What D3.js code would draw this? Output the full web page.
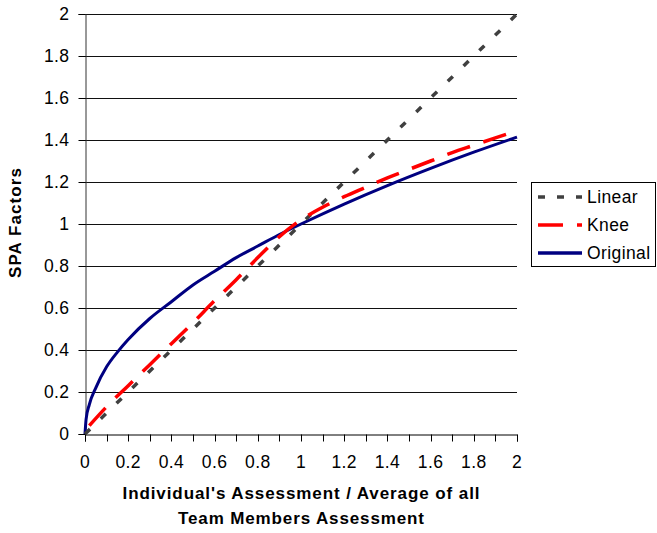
<!DOCTYPE html>
<html><head><meta charset="utf-8">
<script src="https://cdn.jsdelivr.net/npm/d3@7"></script>
<style>body{margin:0;background:#fff}svg{display:block}text{font-family:Arial,"Liberation Sans",sans-serif}</style>
</head><body>
<script>
const linearX = [0, 2];
const linearY = [0, 2];
const kneeX = [0.02, 0.1, 0.2, 0.3, 0.4, 0.5, 0.6, 0.7, 0.8, 0.9, 1.0, 1.1, 1.2, 1.3, 1.4, 1.5, 1.6, 1.7, 1.8, 1.9, 1.96];
const kneeY = [0.04, 0.13, 0.23, 0.33, 0.43, 0.53, 0.635, 0.735, 0.84, 0.94, 1.02, 1.08, 1.13, 1.175, 1.22, 1.26, 1.30, 1.34, 1.375, 1.41, 1.43];
const origX = [0, 0.005, 0.02, 0.05, 0.1, 0.15, 0.2, 0.3, 0.4, 0.5, 0.6, 0.7, 0.8, 0.9, 1.0, 1.2, 1.4, 1.6, 1.8, 2.0];
const origY = [0, 0.07, 0.14, 0.22, 0.32, 0.39, 0.45, 0.55, 0.63, 0.71, 0.775, 0.84, 0.895, 0.95, 1.0, 1.095, 1.183, 1.265, 1.342, 1.414];
const yTicks = [0, 0.2, 0.4, 0.6, 0.8, 1, 1.2, 1.4, 1.6, 1.8, 2];
const xLabelTicks = [0, 0.2, 0.4, 0.6, 0.8, 1, 1.2, 1.4, 1.6, 1.8, 2];
const xMinorTicks = [0,0.1,0.2,0.3,0.4,0.5,0.6,0.7,0.8,0.9,1,1.1,1.2,1.3,1.4,1.5,1.6,1.7,1.8,1.9,2];
const seriesNames = ["Linear", "Knee", "Original"];
const yTitle = "SPA Factors";
const xTitle = ["Individual's Assessment / Average of all", "Team Members Assessment"];

const W = 657, H = 533;
const svg = d3.select("body").append("svg").attr("width", W).attr("height", H);
const x = d3.scaleLinear().domain([0, 2]).range([85, 517]);
const y = d3.scaleLinear().domain([0, 2]).range([434, 14]);

// gridlines
svg.append("g").selectAll("line").data(yTicks.filter(d => d > 0)).join("line")
  .attr("x1", x(0)).attr("x2", x(2)).attr("y1", d => Math.round(y(d)) + 0.5).attr("y2", d => Math.round(y(d)) + 0.5)
  .attr("stroke", "#111").attr("stroke-width", 1);

// y axis
const ya = d3.axisLeft(y).tickValues(yTicks).tickSize(7).tickPadding(8).tickFormat(d3.format("~g"));
const gy = svg.append("g").attr("transform", `translate(${Math.round(x(0)) + 0.5},0)`).call(ya);
gy.select(".domain").attr("stroke", "#333");
gy.selectAll(".tick line").attr("stroke", "#000");
gy.selectAll(".tick").attr("transform", d => `translate(0,${Math.round(y(d)) + 0.5})`);
gy.selectAll("text").attr("font-size", 17.5).attr("letter-spacing", 0.4).attr("fill", "#000")
  .attr("font-family", "Arial, 'Liberation Sans', sans-serif").attr("x", -16);

// x axis
const xa = d3.axisBottom(x).tickValues(xMinorTicks).tickSize(7).tickFormat("");
const gx = svg.append("g").attr("transform", `translate(0,${Math.round(y(0)) + 0.5})`).call(xa);
gx.select(".domain").attr("stroke", "#000");
gx.selectAll(".tick line").attr("stroke", "#000");
gx.selectAll(".tick").attr("transform", d => `translate(${Math.round(x(d)) + 0.5},0)`);
svg.append("g").selectAll("text").data(xLabelTicks).join("text")
  .attr("x", d => x(d)).attr("y", 468).attr("text-anchor", "middle").attr("letter-spacing", 0.4)
  .attr("font-size", 17.5).attr("fill", "#000").text(d3.format("~g"));

// lines
const line = d3.line().x(d => x(d[0])).y(d => y(d[1]));
const lin = d3.zip(linearX, linearY), knee = d3.zip(kneeX, kneeY), orig = d3.zip(origX, origY);
svg.append("path").datum(orig).attr("d", line.curve(d3.curveMonotoneX)).attr("fill", "none")
  .attr("stroke", "#000080").attr("stroke-width", 3);
svg.append("path").datum(lin).attr("d", d3.line().x(d => x(d[0])).y(d => y(d[1]))).attr("fill", "none")
  .attr("stroke", "#404040").attr("stroke-width", 3.5).attr("stroke-dasharray", "7,15");
svg.append("path").datum(knee).attr("d", d3.line().x(d => x(d[0])).y(d => y(d[1])).curve(d3.curveMonotoneX)).attr("fill", "none")
  .attr("stroke", "#ff0000").attr("stroke-width", 3.5).attr("stroke-dasharray", "24,14");

// titles
svg.append("text").attr("transform", "translate(21,223) rotate(-90)").attr("text-anchor", "middle")
  .attr("font-size", 17).attr("font-weight", "bold").attr("fill", "#000")
  .attr("textLength", 110).attr("lengthAdjust", "spacing").text(yTitle);
const xtLens = [357, 246];
svg.append("g").selectAll("text").data(xTitle).join("text")
  .attr("x", 301).attr("y", (d, i) => 499 + i * 25).attr("text-anchor", "middle")
  .attr("font-size", 17).attr("font-weight", "bold").attr("fill", "#000")
  .attr("textLength", (d, i) => xtLens[i]).attr("lengthAdjust", "spacing").text(d => d);

// legend
const lg = svg.append("g");
lg.append("rect").attr("x", 531.5).attr("y", 182.5).attr("width", 124).attr("height", 84)
  .attr("fill", "#fff").attr("stroke", "#000");
const styles = [
  {c: "#404040", da: "7,12"},
  {c: "#ff0000", da: "25,14"},
  {c: "#000080", da: null}
];
seriesNames.forEach((n, i) => {
  const yy = 197 + i * 28;
  const l = lg.append("line").attr("x1", 538).attr("x2", 582).attr("y1", yy).attr("y2", yy)
    .attr("stroke", styles[i].c).attr("stroke-width", 3.5);
  if (styles[i].da) l.attr("stroke-dasharray", styles[i].da);
  lg.append("text").attr("x", 587).attr("y", yy + 6).attr("font-size", 17.5).attr("letter-spacing", 0.4)
    .attr("fill", "#000").text(n);
});
</script>
</body></html>
